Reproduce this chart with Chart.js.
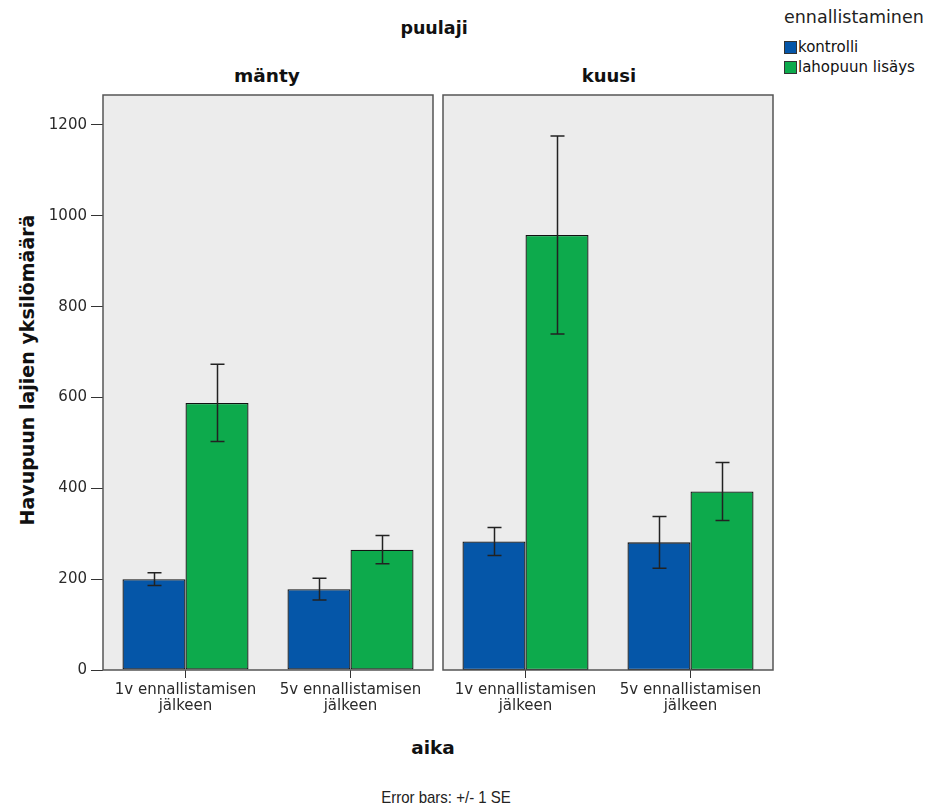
<!DOCTYPE html>
<html><head><meta charset="utf-8">
<script src="https://cdn.jsdelivr.net/npm/chart.js@4.4.1/dist/chart.umd.min.js"></script>
<style>
body{margin:0;background:#fff;width:935px;height:812px;position:relative;overflow:hidden;font-family:"DejaVu Sans",sans-serif;}
.t{position:absolute;white-space:nowrap;color:#111;line-height:1;}
.b{font-weight:bold;}
canvas{position:absolute;}
.sw{position:absolute;width:11px;height:11px;border:1px solid #333;}
</style></head><body>
<div class="t b" style="left:434px;top:29px;transform:translate(-50%,-50%);font-size:17.5px;">puulaji</div>
<div class="t b" style="left:267px;top:76px;transform:translate(-50%,-50%);font-size:18.5px;">mänty</div>
<div class="t b" style="left:609px;top:76px;transform:translate(-50%,-50%);font-size:18px;">kuusi</div>
<div class="t b" style="left:27px;top:370px;transform:translate(-50%,-50%) rotate(-90deg);font-size:19px;">Havupuun lajien yksilömäärä</div>
<div class="t b" style="left:433px;top:748px;transform:translate(-50%,-50%);font-size:18.5px;">aika</div>
<div class="t" style="left:446px;top:797px;transform:translate(-50%,-50%) scaleY(1.12);font-size:15px;color:#222;font-family:'Liberation Sans',sans-serif;">Error bars: +/- 1 SE</div>
<div class="t" style="left:784px;top:18px;transform:translateY(-50%);font-size:17.5px;color:#222;">ennallistaminen</div>
<div class="sw" style="left:784px;top:41px;background:#0556A8;"></div>
<div class="t" style="left:798px;top:47px;transform:translateY(-50%);font-size:15px;color:#111;">kontrolli</div>
<div class="sw" style="left:784px;top:61px;background:#0DAA4C;"></div>
<div class="t" style="left:798px;top:67px;transform:translateY(-50%);font-size:15px;color:#111;">lahopuun lisäys</div>
<canvas id="c1" width="436" height="665" style="left:0;top:60px;"></canvas>
<canvas id="c2" width="336" height="665" style="left:440px;top:60px;"></canvas>
<script>
const categories = [['1v ennallistamisen','jälkeen'],['5v ennallistamisen','jälkeen']];
const seriesNames = ['kontrolli','lahopuun lisäys'];
const mantyKontrolli = [200, 178];
const mantyKontrolliSE = [14, 24];
const mantyLisays = [588, 265];
const mantyLisaysSE = [85, 31];
const kuusiKontrolli = [283, 281];
const kuusiKontrolliSE = [31, 57];
const kuusiLisays = [958, 393];
const kuusiLisaysSE = [218, 64];
const yTicks = [0, 200, 400, 600, 800, 1000, 1200];

const Y_MAX = 1266;
const BLUE = '#0556A8', GREEN = '#0DAA4C';

const panelPlugin = {
  id: 'panel',
  beforeDraw(chart) {
    const {ctx, chartArea: a} = chart;
    ctx.save(); ctx.fillStyle = '#ECECEC';
    ctx.fillRect(a.left, a.top, a.right - a.left, a.bottom - a.top);
    ctx.restore();
  },
  afterDraw(chart) {
    const {ctx, chartArea: a} = chart;
    ctx.save(); ctx.strokeStyle = '#555'; ctx.lineWidth = 1.5;
    ctx.strokeRect(a.left, a.top, a.right - a.left, a.bottom - a.top);
    ctx.restore();
  }
};
const errorBars = {
  id: 'errorBars',
  afterDatasetsDraw(chart) {
    const {ctx} = chart; const y = chart.scales.y;
    chart.data.datasets.forEach((ds, di) => {
      const meta = chart.getDatasetMeta(di);
      meta.data.forEach((bar, i) => {
        const v = ds.data[i], e = ds.errors[i];
        const yt = y.getPixelForValue(v + e), yb = y.getPixelForValue(v - e);
        const x = Math.round(bar.x) + 0.5;
        ctx.save(); ctx.strokeStyle = '#222'; ctx.lineWidth = 1.5;
        ctx.beginPath();
        ctx.moveTo(x, yt); ctx.lineTo(x, yb);
        ctx.moveTo(x - 7, yt); ctx.lineTo(x + 7, yt);
        ctx.moveTo(x - 7, yb); ctx.lineTo(x + 7, yb);
        ctx.stroke(); ctx.restore();
      });
    });
  }
};

function makeChart(id, k, kse, l, lse, showY, padL, padR) {
  return new Chart(document.getElementById(id), {
    type: 'bar',
    data: {
      labels: categories,
      datasets: [
        {label: seriesNames[0], data: k, errors: kse, backgroundColor: BLUE, borderColor: '#111', borderWidth: 1.3, borderSkipped: false},
        {label: seriesNames[1], data: l, errors: lse, backgroundColor: GREEN, borderColor: '#111', borderWidth: 1.3, borderSkipped: false}
      ]
    },
    options: {
      responsive: false, animation: false, devicePixelRatio: 1,
      categoryPercentage: 0.764, barPercentage: 1.0,
      layout: {padding: {top: 35, left: padL, right: padR, bottom: 0}},
      plugins: {legend: {display: false}, tooltip: {enabled: false}},
      scales: {
        x: {
          afterFit(s) { s.height = 55; },
          grid: {offset: false, drawOnChartArea: false, drawTicks: true, tickLength: 8, color: '#333', lineWidth: 1},
          border: {display: false},
          ticks: {color: '#2a2a2a', font: {family: 'DejaVu Sans', size: 15, lineHeight: 1.07}, padding: 4, maxRotation: 0, autoSkip: false}
        },
        y: {
          display: showY, min: 0, max: Y_MAX,
          afterFit(s) { if (showY) s.width = 103; },
          afterBuildTicks(s) { s.ticks = yTicks.map(v => ({value: v})); },
          grid: {drawOnChartArea: false, drawTicks: true, tickLength: 12, color: '#333', lineWidth: 1},
          border: {display: false},
          ticks: {color: '#2a2a2a', font: {family: 'DejaVu Sans', size: 15}, padding: 4, callback: v => String(v)}
        }
      }
    },
    plugins: [panelPlugin, errorBars]
  });
}
makeChart('c1', mantyKontrolli, mantyKontrolliSE, mantyLisays, mantyLisaysSE, true, 0, 3);
makeChart('c2', kuusiKontrolli, kuusiKontrolliSE, kuusiLisays, kuusiLisaysSE, false, 3, 3);
</script>
</body></html>
